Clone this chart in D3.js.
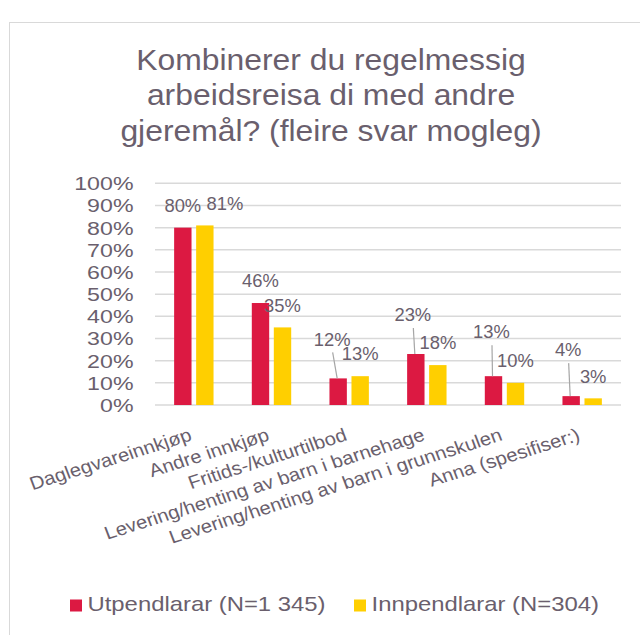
<!DOCTYPE html>
<html>
<head>
<meta charset="utf-8">
<script src="https://cdn.jsdelivr.net/npm/d3@7"></script>
<style>
  body { margin: 0; background: #fff; }
  text { font-family: "Liberation Sans", Arial, sans-serif; fill: #6a5f6d; }
</style>
</head>
<body>
<svg id="chart" width="640" height="635"></svg>
<script>
// data
var categories = ['Daglegvareinnkjøp', 'Andre innkjøp', 'Fritids-/kulturtilbod',
  'Levering/henting av barn i barnehage', 'Levering/henting av barn i grunnskulen', 'Anna (spesifiser:)'];
var seriesNames = ['Utpendlarar (N=1 345)', 'Innpendlarar (N=304)'];
var utpendlarar = [0.80, 0.46, 0.12, 0.23, 0.13, 0.04];
var innpendlarar = [0.81, 0.35, 0.13, 0.18, 0.10, 0.03];
var yTicks = [0, 0.1, 0.2, 0.3, 0.4, 0.5, 0.6, 0.7, 0.8, 0.9, 1.0];
var titleLines = ['Kombinerer du regelmessig', 'arbeidsreisa di med andre', 'gjeremål? (fleire svar mogleg)'];

var colors = ['#dc1942', '#ffcf00'];
// manual nudges of the data labels (as dragged in the original)
var labelNudge = [
  [[0, 0], [0, 0], [-6, -17], [-3, -17], [-2, -22], [-3, -24]],
  [[20, 0], [0, 0], [0, 0], [0, 0], [0, 0], [0, 0]]
];
var pct = d3.format('.0%');

var svg = d3.select('#chart');

svg.append('rect')
  .attr('x', 9.5).attr('y', 22.5)
  .attr('width', 660).attr('height', 660)
  .attr('fill', 'none')
  .attr('stroke', '#d9d9d9');

// title (text in the original is a bit wider than Arial, hence the x-scale)
svg.append('g')
  .attr('transform', 'translate(331,0) scale(1.08,1)')
  .append('text')
  .attr('text-anchor', 'middle')
  .style('font-size', '29.5px')
  .selectAll('tspan')
  .data(titleLines)
  .enter().append('tspan')
  .attr('x', 0)
  .attr('y', (d, i) => 70 + i * 35.5)
  .text(d => d);

var x0 = d3.scaleBand().domain(categories).range([155, 621]);
var x1 = d3.scaleBand().domain(seriesNames)
  .range([x0.bandwidth() / 2 - 19.7, x0.bandwidth() / 2 + 19.7])
  .paddingInner(0.21);
var y = d3.scaleLinear().domain([0, 1]).range([405, 183.3]);

// gridlines
svg.append('g')
  .selectAll('line')
  .data(yTicks)
  .enter().append('line')
  .attr('x1', 155).attr('x2', 621)
  .attr('y1', d => y(d)).attr('y2', d => y(d))
  .attr('stroke', '#d9d9d9')
  .attr('stroke-width', 1.5);

// y axis labels
svg.append('g')
  .selectAll('text')
  .data(yTicks)
  .enter().append('text')
  .attr('transform', d => 'translate(133.5,' + (y(d) + 7) + ') scale(1.22,1)')
  .attr('text-anchor', 'end')
  .style('font-size', '19px')
  .text(d => pct(d));

var series = [utpendlarar, innpendlarar];
var bars = [];
series.forEach((vals, s) => {
  vals.forEach((v, i) => {
    bars.push({ s: s, i: i, v: v, cat: categories[i] });
  });
});

svg.append('g')
  .selectAll('rect')
  .data(bars)
  .enter().append('rect')
  .attr('x', d => x0(d.cat) + x1(seriesNames[d.s]))
  .attr('y', d => y(d.v))
  .attr('width', x1.bandwidth())
  .attr('height', d => y(0) - y(d.v))
  .attr('fill', d => colors[d.s]);

// data labels + leader lines
bars.forEach(d => {
  var cx = x0(d.cat) + x1(seriesNames[d.s]) + x1.bandwidth() / 2;
  var top = y(d.v);
  var n = labelNudge[d.s][d.i];
  var lx = cx + n[0], ly = top - 22 + n[1];
  if (n[1] < -10) {
    svg.append('line')
      .attr('x1', lx + 0.5).attr('y1', ly + 13)
      .attr('x2', cx - 1).attr('y2', top)
      .attr('stroke', '#a6a6a6')
      .attr('stroke-width', 1.2);
  }
  svg.append('text')
    .attr('transform', 'translate(' + lx + ',' + (ly + 6.3) + ') scale(1.05,1)')
    .attr('text-anchor', 'middle')
    .style('font-size', '17.5px')
    .text(pct(d.v));
});

// category labels, rotated
svg.append('g')
  .selectAll('text')
  .data(categories)
  .enter().append('text')
  .attr('transform', d => 'translate(' + (x0(d) + x0.bandwidth() / 2 - 1) + ',440) scale(1.1,1) rotate(-19)')
  .attr('text-anchor', 'end')
  .style('font-size', '18.5px')
  .text(d => d);

// legend
var legendX = [70, 354];
var lg = svg.append('g')
  .selectAll('g')
  .data(seriesNames)
  .enter().append('g')
  .attr('transform', (d, i) => 'translate(' + legendX[i] + ',611)');
lg.append('rect')
  .attr('x', 0).attr('y', -11.5)
  .attr('width', 12).attr('height', 12)
  .attr('fill', (d, i) => colors[i]);
lg.append('text')
  .attr('transform', 'translate(17.5,0) scale(1.17,1)')
  .style('font-size', '20.4px')
  .text(d => d);
</script>
</body>
</html>
